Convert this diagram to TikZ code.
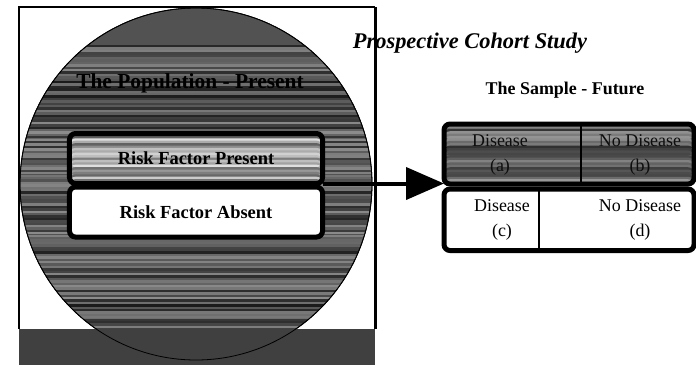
\documentclass[tikz,border=0pt]{standalone}
\usepackage{fontspec}
\setmainfont{Liberation Serif}
\usetikzlibrary{positioning}
\usetikzlibrary{calc}
\usetikzlibrary{arrows.meta}
\tikzset{%
  stripes/.style n args={4}{path picture={%
      \foreach \k in {0,...,#4}{%
        \pgfmathsetmacro\g{#2+rnd*(#3-#2)}%
        \pgfmathsetmacro\ya{#1+\k*2.4}%
        \pgfmathsetmacro\yb{\ya+2+rnd*4}%
        \fill[black!\g] ([yshift=-\ya bp]path picture bounding box.north west)
          rectangle ([yshift=-\yb bp]path picture bounding box.north east);
      }}},
  rbox/.style = {rectangle,rounded corners=6bp,draw,line width=5bp,
        minimum width=253bp,minimum height=50bp,inner sep=0pt,outer sep=0pt,
        font=\bfseries\fontsize{18.5}{22}\selectfont},
  tbox/.style = {rectangle,rounded corners=6bp,draw,line width=5bp,
        minimum width=250bp,inner sep=0pt,outer sep=0pt},
  cell/.style = {align=center,font=\fontsize{18}{25}\selectfont},
  bigarrow/.style = {-{Triangle[length=38bp,width=32bp]},line width=4bp}
}
\begin{document}
\begin{tikzpicture}[x=1bp,y=-1bp]
\useasboundingbox (0,0) rectangle (696,365);
\pgfmathsetseed{7}
% the population
\node[circle,draw,line width=0.8bp,fill=black!68,minimum size=352bp,inner sep=0pt,
      stripes={37}{45}{90}{125}] (pop) at (196,184) {};
\fill[black!75] (19,329) rectangle (375,365);
\draw[line width=0.8bp] (pop.center) circle[radius=176];
\node[font=\bfseries\fontsize{21.5}{24}\selectfont] (poptxt) at (190,83) {The Population - Present};
\node[font=\bfseries\itshape\fontsize{22.5}{26}\selectfont] (title) at (470,43) {Prospective Cohort Study};
\draw[line width=1.5bp] (19,329) -- (19,7) -- (375,7);
\draw[line width=3bp] (375,7) -- (375,329);
\node[rbox,fill=black!40,stripes={0}{10}{65}{25}] (rfp) at (196,158.5) {Risk Factor Present};
\node[rbox,fill=white,below=3.5bp of rfp] (rfa) {Risk Factor Absent};
% the sample
\node[font=\bfseries\fontsize{18}{22}\selectfont] (sample) at (565,90) {The Sample - Future};
\node[tbox,minimum height=60bp,fill=black!60,stripes={0}{35}{85}{30}] (tabtop) at (569,154) {};
\node[tbox,minimum height=61.5bp,fill=white,below=5bp of tabtop] (tabbot) {};
\draw[line width=1.5bp] ($(tabtop.north west)!0.548!(tabtop.north east)$)
    -- ($(tabtop.south west)!0.548!(tabtop.south east)$);
\draw[line width=1.5bp] ($(tabbot.north west)!0.38!(tabbot.north east)$)
    -- ($(tabbot.south west)!0.38!(tabbot.south east)$);
\node[cell,text=black!95] (ca) at (500,155) {Disease\\(a)};
\node[cell,text=black!95] (cb) at (640,155) {No Disease\\(b)};
\node[cell] (cc) at (502,220) {Disease\\(c)};
\node[cell] (cd) at (640,220) {No Disease\\(d)};
\draw[bigarrow] (rfp.south east) -- (rfp.south east -| tabtop.west);
\end{tikzpicture}
\end{document}
